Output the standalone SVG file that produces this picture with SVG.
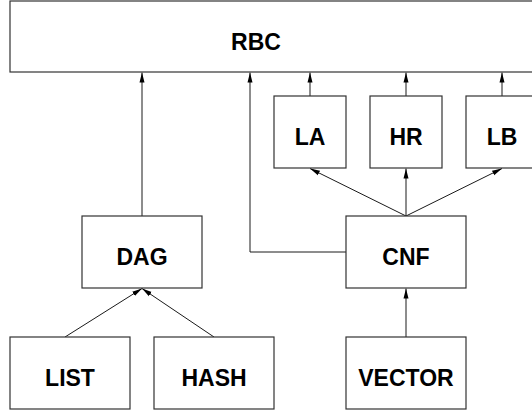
<svg xmlns="http://www.w3.org/2000/svg" width="532" height="410" viewBox="0 0 532 410">
  <style>
    .box { fill: #ffffff; stroke: #333333; stroke-width: 1.2; }
    .lbl { font-family: "Liberation Sans", Arial, sans-serif; font-weight: bold; font-size: 23px; fill: #000000; text-anchor: middle; }
    .edge { fill: none; stroke: #1a1a1a; stroke-width: 1; marker-end: url(#arrow); }
  </style>
  <defs>
    <marker id="arrow" viewBox="0 0 10 10" refX="10" refY="5" markerWidth="10" markerHeight="10" markerUnits="userSpaceOnUse" orient="auto">
      <path d="M0,2.5 L10,5 L0,7.5 Z" fill="#000000"/>
    </marker>
  </defs>

  <g id="connectors">
    <path class="edge" d="M142,216 L142,72.5"/>
    <path class="edge" d="M346,252 L250,252 L250,72.5"/>
    <path class="edge" d="M310,96 L310,72.5"/>
    <path class="edge" d="M406,96 L406,72.5"/>
    <path class="edge" d="M502,96 L502,72.5"/>
    <path class="edge" d="M406,216 L310,168.5"/>
    <path class="edge" d="M406,216 L406,168.5"/>
    <path class="edge" d="M406,216 L502,168.5"/>
    <path class="edge" d="M65,337 L142,288.5"/>
    <path class="edge" d="M214,337 L142,288.5"/>
    <path class="edge" d="M406,337 L406,288.5"/>
  </g>

  <g id="rbc">
    <rect class="box" x="10" y="1" width="540" height="71"/>
    <text class="lbl" x="256" y="49.5">RBC</text>
  </g>
  <g id="la">
    <rect class="box" x="274" y="96" width="72" height="72"/>
    <text class="lbl" x="310" y="144.5">LA</text>
  </g>
  <g id="hr">
    <rect class="box" x="370" y="96" width="72" height="72"/>
    <text class="lbl" x="406" y="144.5">HR</text>
  </g>
  <g id="lb">
    <rect class="box" x="466" y="96" width="72" height="72"/>
    <text class="lbl" x="502" y="144.5">LB</text>
  </g>
  <g id="dag">
    <rect class="box" x="82" y="216" width="120" height="72"/>
    <text class="lbl" x="142" y="264.5">DAG</text>
  </g>
  <g id="cnf">
    <rect class="box" x="346" y="216" width="120" height="72"/>
    <text class="lbl" x="406" y="264.5">CNF</text>
  </g>
  <g id="list">
    <rect class="box" x="10" y="337" width="120" height="72"/>
    <text class="lbl" x="70" y="385.5">LIST</text>
  </g>
  <g id="hash">
    <rect class="box" x="154" y="337" width="120" height="72"/>
    <text class="lbl" x="214" y="385.5">HASH</text>
  </g>
  <g id="vector">
    <rect class="box" x="346" y="337" width="120" height="72"/>
    <text class="lbl" x="406" y="385.5">VECTOR</text>
  </g>
</svg>
